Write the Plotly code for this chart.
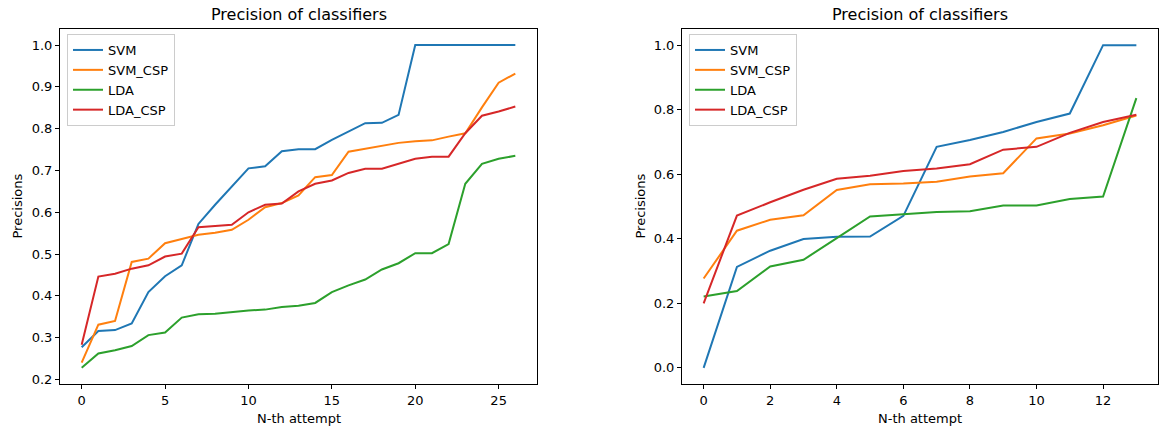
import plotly.graph_objects as go

# ---- data: left panel ----
x_left = list(range(27))
svm_l = [0.277, 0.316, 0.318, 0.334, 0.409, 0.447, 0.473, 0.572, 0.618, 0.662, 0.705, 0.710, 0.746,
         0.751, 0.751, 0.773, 0.793, 0.813, 0.814, 0.833, 1.0, 1.0, 1.0, 1.0, 1.0, 1.0, 1.0]
svmcsp_l = [0.240, 0.331, 0.340, 0.481, 0.489, 0.526, 0.536, 0.546, 0.551, 0.558, 0.582, 0.612, 0.622,
            0.640, 0.684, 0.689, 0.745, 0.752, 0.758, 0.766, 0.770, 0.772, 0.781, 0.789, 0.851, 0.910, 0.932]
lda_l = [0.228, 0.262, 0.270, 0.280, 0.306, 0.312, 0.348, 0.356, 0.357, 0.361, 0.365, 0.367, 0.373,
         0.376, 0.383, 0.409, 0.425, 0.439, 0.463, 0.478, 0.502, 0.502, 0.524, 0.668, 0.716, 0.728, 0.735]
ldacsp_l = [0.283, 0.446, 0.453, 0.465, 0.473, 0.494, 0.501, 0.564, 0.567, 0.570, 0.600, 0.618, 0.621,
            0.650, 0.668, 0.676, 0.694, 0.704, 0.704, 0.716, 0.728, 0.733, 0.733, 0.789, 0.831, 0.841, 0.853]

# ---- data: right panel ----
x_right = list(range(14))
svm_r = [0.0, 0.313, 0.363, 0.399, 0.406, 0.407, 0.471, 0.685, 0.706, 0.731, 0.762, 0.788, 1.0, 1.0]
svmcsp_r = [0.277, 0.425, 0.459, 0.473, 0.551, 0.569, 0.571, 0.577, 0.593, 0.603, 0.711, 0.726, 0.752, 0.782]
lda_r = [0.221, 0.238, 0.314, 0.335, 0.402, 0.469, 0.476, 0.483, 0.485, 0.503, 0.503, 0.523, 0.531, 0.836]
ldacsp_r = [0.200, 0.472, 0.513, 0.552, 0.586, 0.595, 0.610, 0.618, 0.631, 0.676, 0.685, 0.728, 0.762, 0.784]

names = ["SVM", "SVM_CSP", "LDA", "LDA_CSP"]
colors = ["#1f77b4", "#ff7f0e", "#2ca02c", "#d62728"]
left_series = [svm_l, svmcsp_l, lda_l, ldacsp_l]
right_series = [svm_r, svmcsp_r, lda_r, ldacsp_r]

W, H = 1165, 430
FONT = "DejaVu Sans"

fig = go.Figure()
for n, c, ys in zip(names, colors, left_series):
    fig.add_trace(go.Scatter(x=x_left, y=ys, mode="lines", name=n,
                             line=dict(color=c, width=2), xaxis="x", yaxis="y", legend="legend"))
for n, c, ys in zip(names, colors, right_series):
    fig.add_trace(go.Scatter(x=x_right, y=ys, mode="lines", name=n,
                             line=dict(color=c, width=2), xaxis="x2", yaxis="y2", legend="legend2"))

# pixel geometry
L1, R1 = 60, 537
L2, R2 = 682, 1158
T, B = 29, 384

def px(v):
    return v / W

def py(v):
    return 1 - v / H

axis_common = dict(showline=True, mirror=True, linecolor="black", linewidth=1,
                   ticks="outside", ticklen=4, tickwidth=1, tickcolor="black",
                   showgrid=False, zeroline=False, automargin=False,
                   tickfont=dict(family=FONT, size=13, color="black"))

legend_common = dict(bgcolor="rgba(255,255,255,0.8)", bordercolor="#cccccc", borderwidth=1,
                     font=dict(family=FONT, size=13, color="black"),
                     xanchor="left", yanchor="top", tracegroupgap=0, itemwidth=30)

fig.update_layout(
    width=W, height=H,
    margin=dict(l=0, r=0, t=0, b=0),
    paper_bgcolor="white", plot_bgcolor="white",
    font=dict(family=FONT, color="black"),
    xaxis=dict(domain=[px(L1), px(R1)], range=[-1.3, 27.3], tickvals=[0, 5, 10, 15, 20, 25],
               anchor="y", **axis_common),
    yaxis=dict(domain=[py(B), py(T)], range=[0.189, 1.0385],
               tickvals=[0.2, 0.3, 0.4, 0.5, 0.6, 0.7, 0.8, 0.9, 1.0], tickformat=".1f",
               anchor="x", **axis_common),
    xaxis2=dict(domain=[px(L2), px(R2)], range=[-0.65, 13.65], tickvals=[0, 2, 4, 6, 8, 10, 12],
                anchor="y2", **axis_common),
    yaxis2=dict(domain=[py(B), py(T)], range=[-0.05, 1.05],
                tickvals=[0.0, 0.2, 0.4, 0.6, 0.8, 1.0], tickformat=".1f",
                anchor="x2", **axis_common),
    legend=dict(x=px(67), y=py(34), **legend_common),
    legend2=dict(x=px(689), y=py(34), **legend_common),
    showlegend=True,
)

annots = []
for (l, r, xlab_x, ylab_x) in [(L1, R1, (L1 + R1) / 2, 17), (L2, R2, (L2 + R2) / 2, 640)]:
    annots.append(dict(text="Precision of classifiers", x=px((l + r) / 2), y=py(14),
                       xref="paper", yref="paper", showarrow=False,
                       font=dict(family=FONT, size=16, color="black"),
                       xanchor="center", yanchor="middle"))
    annots.append(dict(text="N-th attempt", x=px(xlab_x), y=py(418),
                       xref="paper", yref="paper", showarrow=False,
                       font=dict(family=FONT, size=13, color="black"),
                       xanchor="center", yanchor="middle"))
    annots.append(dict(text="Precisions", x=px(ylab_x), y=py((T + B) / 2),
                       xref="paper", yref="paper", showarrow=False, textangle=-90,
                       font=dict(family=FONT, size=13, color="black"),
                       xanchor="center", yanchor="middle"))
fig.update_layout(annotations=annots)

fig.write_html("out.html", config={"displayModeBar": False},
               post_script="document.body.style.margin='0';document.body.style.overflow='hidden';")
